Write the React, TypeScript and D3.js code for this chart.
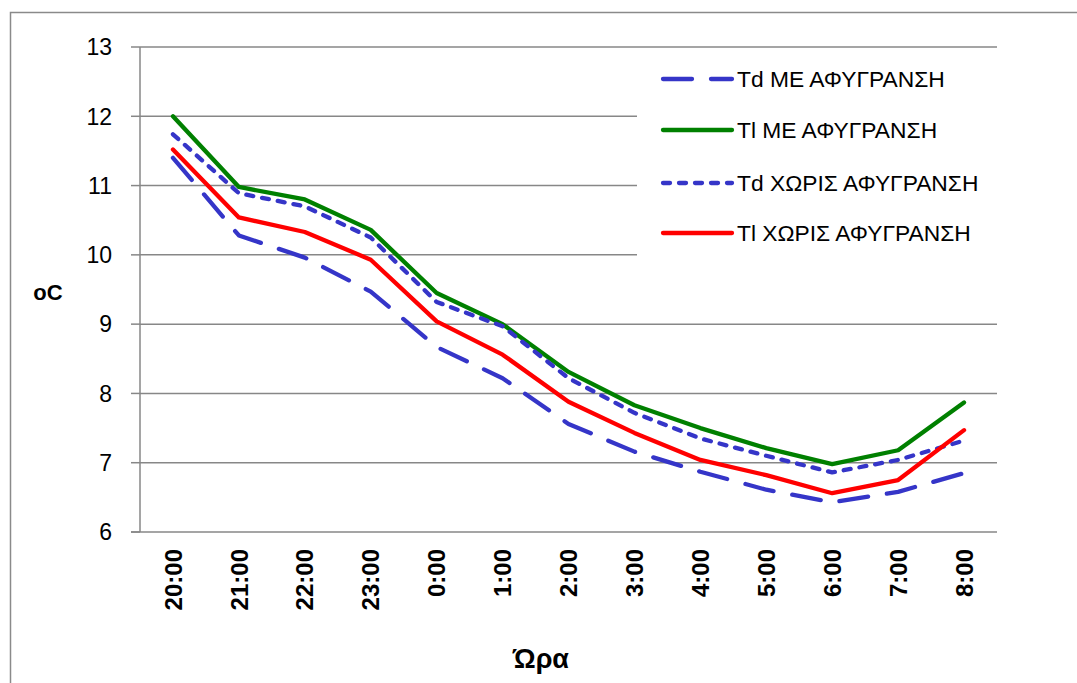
import React from "react";
import * as d3 from "d3";

const categories = ["20:00", "21:00", "22:00", "23:00", "0:00", "1:00", "2:00", "3:00", "4:00", "5:00", "6:00", "7:00", "8:00"];
const tdWith = [11.40, 10.28, 9.96, 9.47, 8.67, 8.22, 7.56, 7.16, 6.87, 6.61, 6.43, 6.58, 6.85];
const tlWith = [12.0, 10.98, 10.80, 10.36, 9.45, 9.00, 8.31, 7.83, 7.50, 7.21, 6.98, 7.18, 7.87];
const tdWithout = [11.74, 10.89, 10.70, 10.25, 9.32, 8.97, 8.22, 7.72, 7.35, 7.10, 6.86, 7.04, 7.32];
const tlWithout = [11.52, 10.54, 10.33, 9.93, 9.04, 8.56, 7.88, 7.43, 7.04, 6.82, 6.56, 6.75, 7.47];
const seriesNames = ["Td ΜΕ ΑΦΥΓΡΑΝΣΗ", "Tl ΜΕ ΑΦΥΓΡΑΝΣΗ", "Td ΧΩΡΙΣ ΑΦΥΓΡΑΝΣΗ", "Tl ΧΩΡΙΣ ΑΦΥΓΡΑΝΣΗ"];
const yTicks = [6, 7, 8, 9, 10, 11, 12, 13];

const series = [
  { name: seriesNames[0], values: tdWith, color: "#3535C8", dash: "29,19" },
  { name: seriesNames[1], values: tlWith, color: "#008000", dash: null },
  { name: seriesNames[2], values: tdWithout, color: "#3535C8", dash: "7,9" },
  { name: seriesNames[3], values: tlWithout, color: "#FF0000", dash: null },
];

export default function App() {
  const W = 1077, H = 683;
  const left = 140, right = 997, top = 47, bottom = 532;
  const x = d3.scaleBand<string>().domain(categories).range([left, right]);
  const y = d3.scaleLinear().domain([6, 13]).range([bottom, top]);
  const line = d3.line<number>()
    .x((_, i) => (x(categories[i]) as number) + x.bandwidth() / 2)
    .y((d) => y(d));
  const grid = "#878787";
  const font = "'Liberation Sans', Arial, sans-serif";
  const legendRows = [79, 130, 183, 233];

  return (
    <svg width={W} height={H} style={{ position: "absolute", left: 0, top: 0, display: "block", background: "#fff" }} fontFamily={font}>
      <rect x={0} y={0} width={W} height={H} fill="#fff" />
      <rect x={10.5} y={12.5} width={1200} height={800} fill="none" stroke="#8a8a8a" strokeWidth={1.5} />
      {yTicks.filter((t) => t > 6).map((t) => (
        <line key={t} x1={left} x2={right} y1={y(t)} y2={y(t)} stroke={grid} strokeWidth={1.5} />
      ))}
      {/* legend background covers gridlines */}
      <rect x={637} y={57} width={370} height={203} fill="#fff" />
      <line x1={left} x2={left} y1={top} y2={bottom} stroke={grid} strokeWidth={1.5} />
      <line x1={131} x2={right} y1={bottom} y2={bottom} stroke={grid} strokeWidth={1.5} />
      {yTicks.map((t) => (
        <g key={t}>
          <line x1={131} x2={left} y1={y(t)} y2={y(t)} stroke={grid} strokeWidth={1.5} />
          <text x={112} y={y(t)} dy="0.36em" textAnchor="end" fontSize={23} fill="#000">{t}</text>
        </g>
      ))}
      {categories.map((c) => {
        const cx = (x(c) as number) + x.bandwidth() / 2;
        return (
          <text key={c} transform={`translate(${cx},549) rotate(-90)`} dy="0.36em" textAnchor="end" fontSize={24} fontWeight="bold" fill="#000">{c}</text>
        );
      })}
      {series.map((s) => (
        <path key={s.name} d={line(s.values) as string} fill="none" stroke={s.color} strokeWidth={4.3}
          strokeDasharray={s.dash ?? undefined} strokeLinecap="round" strokeLinejoin="round" />
      ))}
      {series.map((s, i) => (
        <g key={s.name}>
          <line x1={663} x2={732} y1={legendRows[i]} y2={legendRows[i]} stroke={s.color} strokeWidth={4.3}
            strokeDasharray={s.dash ?? undefined} strokeLinecap="round" />
          <text x={737} y={legendRows[i] + 8} fontSize={22.8} fill="#000">{s.name}</text>
        </g>
      ))}
      <text x={48} y={300} textAnchor="middle" fontSize={22} fontWeight="bold" fill="#000">oC</text>
      <text x={541} y={668} textAnchor="middle" fontSize={27} fontWeight="bold" fill="#000">Ώρα</text>
    </svg>
  );
}
